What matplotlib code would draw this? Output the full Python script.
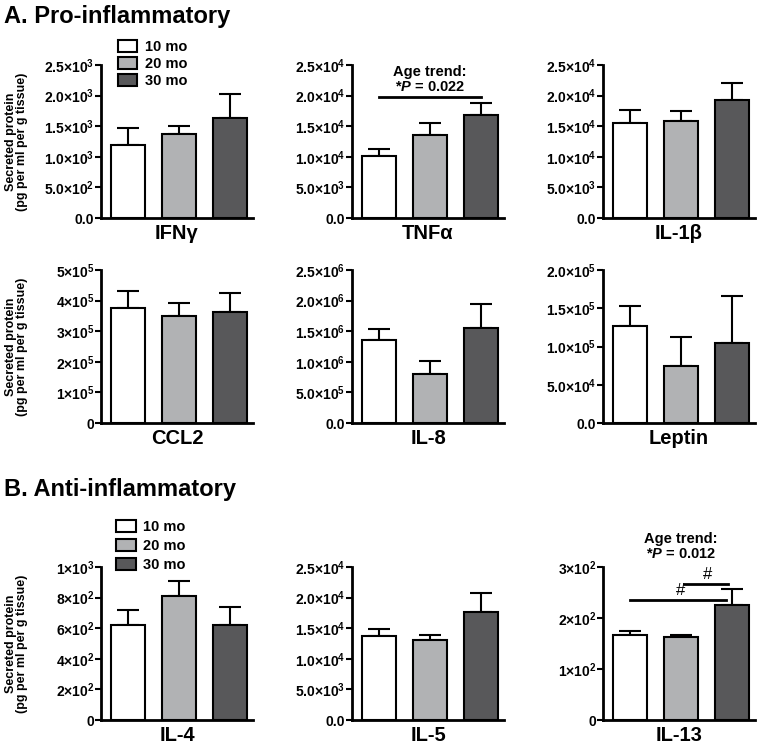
import numpy as np
import matplotlib
matplotlib.use("Agg")
import matplotlib.pyplot as plt

plt.rcParams['font.family'] = ['Liberation Sans', 'DejaVu Sans']
plt.rcParams['font.weight'] = 'bold'
plt.rcParams['mathtext.fontset'] = 'custom'
plt.rcParams['mathtext.it'] = 'Liberation Sans:italic:bold'
plt.rcParams['mathtext.rm'] = 'Liberation Sans:bold'
plt.rcParams['mathtext.bf'] = 'Liberation Sans:bold'

# データ
groups = ["10 mo", "20 mo", "30 mo"]
colors = ["#ffffff", "#b1b2b4", "#58585a"]

ifng_mean = [1190, 1367, 1630]
ifng_err = [275, 130, 395]
tnfa_mean = [10050, 13600, 16830]
tnfa_err = [1300, 1880, 2040]
il1b_mean = [15580, 15850, 19210]
il1b_err = [2060, 1680, 2920]
ccl2_mean = [376600, 350400, 362400]
ccl2_err = [55700, 40400, 63300]
il8_mean = [1359000, 808000, 1550000]
il8_err = [175000, 202000, 399000]
leptin_mean = [127000, 74200, 105200]
leptin_err = [25800, 37600, 60700]
il4_mean = [624, 811, 620]
il4_err = [92, 99, 116]
il5_mean = [13670, 13070, 17650]
il5_err = [1200, 820, 3160]
il13_mean = [166.7, 162, 225.8]
il13_err = [7.3, 4, 30.9]

# 目盛り
ticks_1 = [0, 500, 1000, 1500, 2000, 2500]
labels_1 = ["0.0", "5.0×10^2", "1.0×10^3", "1.5×10^3", "2.0×10^3", "2.5×10^3"]
ticks_2 = [0, 5000, 10000, 15000, 20000, 25000]
labels_2 = ["0.0", "5.0×10^3", "1.0×10^4", "1.5×10^4", "2.0×10^4", "2.5×10^4"]
ticks_ccl2 = [0, 1e5, 2e5, 3e5, 4e5, 5e5]
labels_ccl2 = ["0", "1×10^5", "2×10^5", "3×10^5", "4×10^5", "5×10^5"]
ticks_il8 = [0, 5e5, 1e6, 1.5e6, 2e6, 2.5e6]
labels_il8 = ["0.0", "5.0×10^5", "1.0×10^6", "1.5×10^6", "2.0×10^6", "2.5×10^6"]
ticks_lep = [0, 5e4, 1e5, 1.5e5, 2e5]
labels_lep = ["0.0", "5.0×10^4", "1.0×10^5", "1.5×10^5", "2.0×10^5"]
ticks_il4 = [0, 200, 400, 600, 800, 1000]
labels_il4 = ["0", "2×10^2", "4×10^2", "6×10^2", "8×10^2", "1×10^3"]
ticks_il13 = [0, 100, 200, 300]
labels_il13 = ["0", "1×10^2", "2×10^2", "3×10^2"]

panels = [
    ("IFNγ", ifng_mean, ifng_err, ticks_1, labels_1),
    ("TNFα", tnfa_mean, tnfa_err, ticks_2, labels_2),
    ("IL-1β", il1b_mean, il1b_err, ticks_2, labels_2),
    ("CCL2", ccl2_mean, ccl2_err, ticks_ccl2, labels_ccl2),
    ("IL-8", il8_mean, il8_err, ticks_il8, labels_il8),
    ("Leptin", leptin_mean, leptin_err, ticks_lep, labels_lep),
    ("IL-4", il4_mean, il4_err, ticks_il4, labels_il4),
    ("IL-5", il5_mean, il5_err, ticks_2, labels_2),
    ("IL-13", il13_mean, il13_err, ticks_il13, labels_il13),
]


def tex_label(s):
    # "2.5×10^3" -> mathtext の上付き表記
    if "^" not in s:
        return s
    base, exp = s.split("^")
    base = base.replace("×", "{\\times}")
    return "$\\mathbf{" + base + "}^{\\mathbf{" + exp + "}}$"


W, H = 760, 746
fig = plt.figure(figsize=(W / 100, H / 100), dpi=100)

col_left = [101, 352, 603]
row_top = [65, 270, 567]
ax_w, ax_h = 152, 153

axes = []
for i, (name, mean, err, ticks, labels) in enumerate(panels):
    r, c = divmod(i, 3)
    ax = fig.add_axes([col_left[c] / W, 1 - (row_top[r] + ax_h) / H, ax_w / W, ax_h / H])
    x = np.arange(3)
    ax.bar(x, mean, width=0.667, color=colors, edgecolor='black', linewidth=1.5, zorder=2)
    ax.errorbar(x, mean, yerr=[np.zeros(3), err], fmt='none', ecolor='black',
                elinewidth=1.5, capsize=8, capthick=1.5, zorder=1)
    ax.set_xlim(-0.52, 2.45)
    ax.set_ylim(0, ticks[-1])
    ax.set_yticks(ticks)
    ax.set_yticklabels([tex_label(s) for s in labels], fontsize=10, fontweight='bold')
    ax.set_xticks([])
    ax.set_xlabel(name, fontsize=14.5, fontweight='bold', labelpad=4)
    for s in ['top', 'right']:
        ax.spines[s].set_visible(False)
    for s in ['left', 'bottom']:
        ax.spines[s].set_linewidth(2)
    ax.tick_params(axis='y', width=1.5, length=4, pad=1)
    if c == 0:
        ax.set_ylabel("Secreted protein\n(pg per ml per g tissue)", fontsize=9,
                      fontweight='bold', linespacing=0.9)
        ax.yaxis.set_label_coords(-0.48, 0.5)
    axes.append(ax)

# 凡例
for idx, anchor, spacing in [(0, (0.11, 1.165), 0.2), (6, (0.1, 1.31), 0.35)]:
    ax = axes[idx]
    handles = [plt.Rectangle((0, 0), 1, 1, facecolor=col, edgecolor='black', linewidth=1.5)
               for col in colors]
    ax.legend(handles, groups, loc='upper left', bbox_to_anchor=anchor, frameon=False,
              fontsize=10.5, handlelength=1.35, handleheight=0.9, labelspacing=spacing,
              handletextpad=0.5, borderpad=0, borderaxespad=0)

# 有意差 (TNFα)
ax = axes[1]
ax.plot([0, 2], [19800, 19800], color='black', lw=2, clip_on=False)
ax.text(1, 20300, "Age trend:\n*$\\mathit{P}$ = 0.022", ha='center', va='bottom',
        fontsize=10.5, fontweight='bold', linespacing=1.05, clip_on=False)

# 有意差 (IL-13)
ax = axes[8]
ax.plot([0, 1.88], [236, 236], color='black', lw=2, clip_on=False)
ax.text(1.0, 240, "#", ha='center', va='bottom', fontsize=12, fontweight='normal')
ax.plot([1.07, 1.92], [267, 267], color='black', lw=2, clip_on=False)
ax.text(1.53, 271, "#", ha='center', va='bottom', fontsize=12, fontweight='normal')
ax.text(1, 312, "Age trend:\n*$\\mathit{P}$ = 0.012", ha='center', va='bottom',
        fontsize=10.5, fontweight='bold', linespacing=1.05, clip_on=False)

fig.text(4 / W, 1 - 5 / H, "A. Pro-inflammatory", ha='left', va='top',
         fontsize=17, fontweight='bold')
fig.text(4 / W, 1 - 478 / H, "B. Anti-inflammatory", ha='left', va='top',
         fontsize=17, fontweight='bold')

fig.savefig("out.png", dpi=100)
